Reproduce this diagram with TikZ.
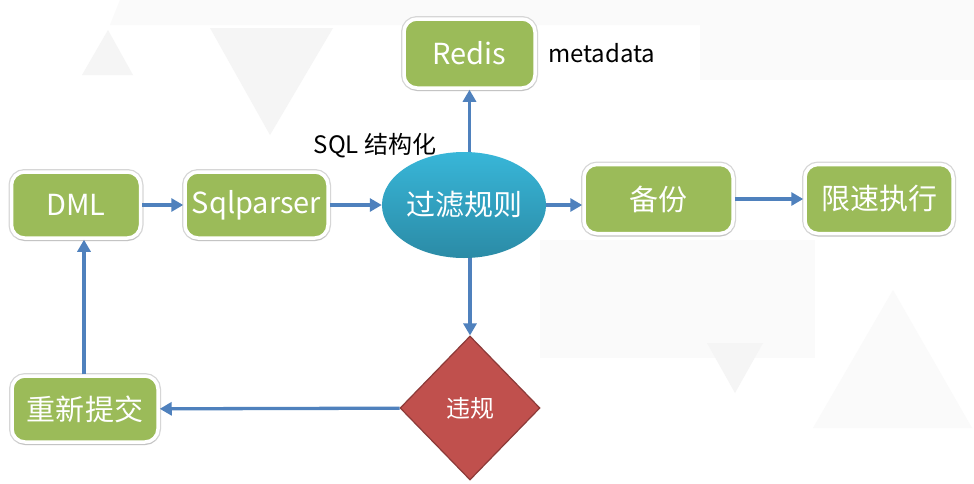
\documentclass[tikz,border=0pt]{standalone}
\usepackage{fontspec}
\setmainfont{Noto Sans CJK SC}
\usetikzlibrary{arrows.meta,shapes.geometric,shadows}
\definecolor{FlowGreen}{HTML}{9BBB59}
\definecolor{FlowBlue}{HTML}{4F81BD}
\definecolor{FlowRed}{HTML}{C0504D}
\definecolor{FlowRedEdge}{HTML}{8C3A38}
\definecolor{FlowCyanTop}{HTML}{38B6D8}
\definecolor{FlowCyanBot}{HTML}{2B8BA6}
\definecolor{BgTri}{HTML}{F5F5F5}
\definecolor{BgTriLight}{HTML}{FAFAFA}

\begin{document}
\begin{tikzpicture}[x=1pt,y=-1pt,
    box/.style={draw=white,line width=3.5pt,rounded corners=13pt,fill=FlowGreen,
      text=white,font=\fontsize{29}{31}\selectfont,inner sep=0pt,
      preaction={draw=black!16,line width=6pt},
      drop shadow={opacity=0.2,shadow xshift=0.5pt,shadow yshift=-3pt}},
    rule/.style={ellipse,minimum width=128pt,minimum height=106pt,inner sep=0pt,
      top color=FlowCyanTop,bottom color=FlowCyanBot,text=white,
      font=\fontsize{29}{31}\selectfont},
    check/.style={diamond,minimum width=140pt,minimum height=144pt,inner sep=0pt,
      fill=FlowRed,draw=FlowRedEdge,line width=1.2pt,text=white,
      font=\fontsize{24}{26}\selectfont},
    note/.style={text=black,font=\fontsize{24}{26}\selectfont,inner sep=0pt},
    arr/.style={-{Triangle[length=12pt,width=13pt]},line width=3.3pt,draw=FlowBlue}
  ]
    % background
    \fill[white] (0,0) rectangle (974,483);
    \useasboundingbox (0,0) rectangle (974,483);
    \fill[BgTriLight] (120,0) -- (974,0) -- (974,25) -- (110,25) -- cycle;
    \fill[BgTri] (82,75) -- (108,30) -- (133,75) -- cycle;
    \fill[BgTri] (210,28) -- (333,28) -- (270,135) -- cycle;
    \fill[BgTriLight] (700,0) -- (974,0) -- (974,80) -- (700,80) -- cycle;
    \fill[BgTriLight] (540,240) -- (815,240) -- (815,358) -- (540,358) -- cycle;
    \fill[BgTri] (707,343) -- (763,343) -- (735,393) -- cycle;
    \fill[BgTriLight] (813,428) -- (893,290) -- (972,428) -- cycle;

    % nodes
    \node[box,minimum width=129pt,minimum height=66pt] (dml) at (76,205) {DML};
    \node[box,minimum width=143pt,minimum height=66pt] (parser) at (256.5,205) {Sqlparser};
    \node[rule] (filter) at (464,205) {过滤规则};
    \node[box,minimum width=131pt,minimum height=69pt] (redis) at (469.5,53.5) {Redis};
    \node[box,minimum width=149pt,minimum height=69pt] (backup) at (658.5,199) {备份};
    \node[box,minimum width=148pt,minimum height=69pt] (limit) at (879,199) {限速执行};
    \node[check] (violate) at (470,408) {违规};
    \node[box,minimum width=146pt,minimum height=66pt] (resubmit) at (85,409) {重新提交};
    \node[note,anchor=west] (meta) at (548,53) {metadata};
    \node[note] (struct) at (375,146) {SQL 结构化};

    % connectors
    \draw[arr] (dml) -- (parser);
    \draw[arr] (parser) -- (filter);
    \draw[arr] (filter.east) -- (filter.east -| backup.west);
    \draw[arr] (backup) -- (limit);
    \draw[arr] (filter.north -| redis) -- (redis.south);
    \draw[arr] (filter.south -| violate) -- (violate.north);
    \draw[arr] (violate) -- (resubmit);
    \draw[arr] (resubmit.north -| 84,0) -- (dml.south -| 84,0);
\end{tikzpicture}
\end{document}
